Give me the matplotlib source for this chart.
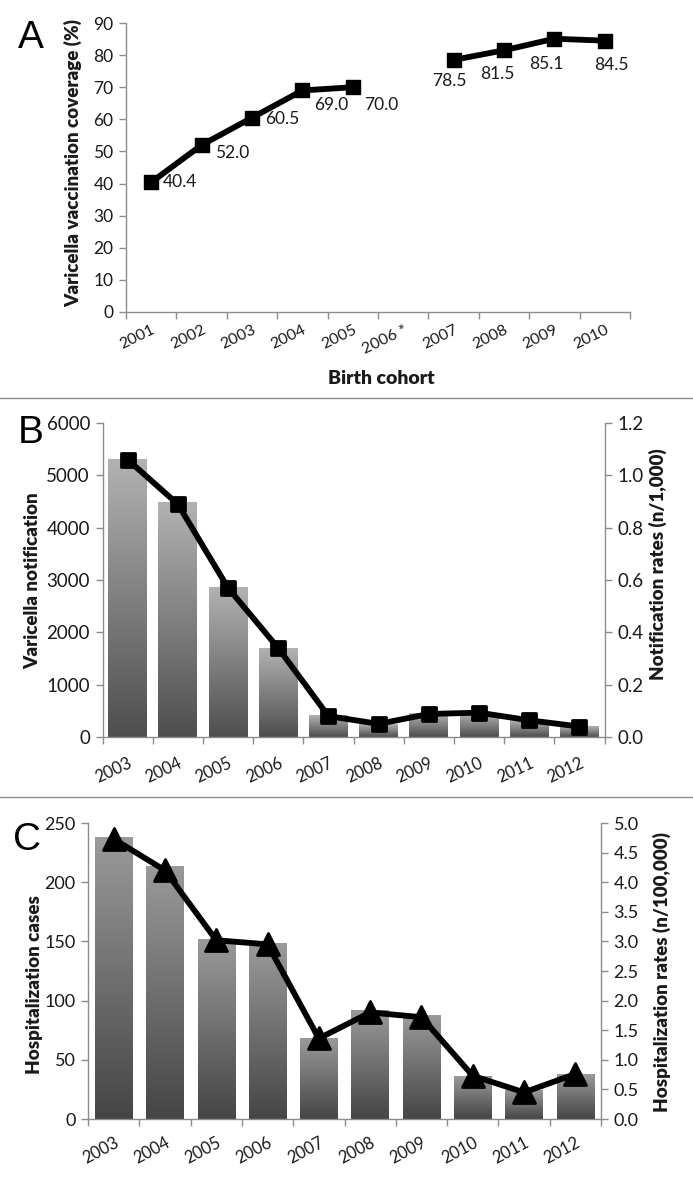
import numpy as np
import matplotlib
matplotlib.use("Agg")
import matplotlib.pyplot as plt
from matplotlib.markers import MarkerStyle
from matplotlib.lines import Line2D
from matplotlib.colors import LinearSegmentedColormap

plt.rcParams['font.family'] = ['Lato', 'DejaVu Sans']

# ---------------- data ----------------
cohort_labels = ["2001", "2002", "2003", "2004", "2005", "2006 *", "2007", "2008", "2009", "2010"]
coverage = [40.4, 52.0, 60.5, 69.0, 70.0, np.nan, 78.5, 81.5, 85.1, 84.5]

years = ["2003", "2004", "2005", "2006", "2007", "2008", "2009", "2010", "2011", "2012"]
notifications = [5300, 4480, 2850, 1700, 410, 240, 440, 450, 320, 205]
notification_rates = [1.06, 0.89, 0.57, 0.34, 0.08, 0.05, 0.088, 0.093, 0.064, 0.04]
hosp_cases = [238, 213, 152, 148, 68, 92, 87, 36, 24, 38]
hosp_rates = [4.73, 4.20, 3.02, 2.95, 1.36, 1.80, 1.72, 0.73, 0.45, 0.76]

# ---------------- style ----------------
W, H = 693, 1184
SPINE = '#8c8c8c'
LABEL_FS = 13.5
LABEL_W = 'heavy'
TEXT = '#1a1a1a'

fig = plt.figure(figsize=(W / 100, H / 100), dpi=100)


def px_axes(left, right, top, bottom):
    return fig.add_axes([left / W, 1 - bottom / H, (right - left) / W, (bottom - top) / H])


def style_axes(ax, yfs, right=False):
    ax.spines['top'].set_visible(False)
    for s in ['left', 'right', 'bottom']:
        ax.spines[s].set_color(SPINE)
        ax.spines[s].set_linewidth(1.0)
    ax.spines['right'].set_visible(right)
    ax.tick_params(axis='y', colors=SPINE, labelcolor=TEXT, labelsize=yfs, length=5, width=1,
                   direction='out', pad=4)


def setup_x(ax, labels, pad, fs, rot):
    n = len(labels)
    ax.set_xlim(-0.5, n - 0.5)
    ax.set_xticks(np.arange(n + 1) - 0.5)
    ax.set_xticklabels([])
    ax.set_xticks(np.arange(n), minor=True)
    ax.set_xticklabels(labels, minor=True, rotation=rot, ha='right', rotation_mode='anchor',
                       fontsize=fs, color=TEXT)
    ax.tick_params(axis='x', which='minor', length=0, pad=pad)
    ax.tick_params(axis='x', which='major', length=5, width=1, color=SPINE, direction='out')


def gradient_bars(ax, values, width, top_gray, bottom_gray):
    n = len(values)
    bars = ax.bar(np.arange(n), values, width=width, color='none', edgecolor='none', zorder=2)
    cmap = LinearSegmentedColormap.from_list('g', [bottom_gray, top_gray])
    grad = np.linspace(0, 1, 256).reshape(-1, 1)
    for rect in bars:
        x0, y0 = rect.get_x(), rect.get_y()
        w, h = rect.get_width(), rect.get_height()
        ax.imshow(grad, extent=[x0, x0 + w, y0, y0 + h], origin='lower', aspect='auto',
                  cmap=cmap, zorder=2, interpolation='bilinear')


def round_marker(m):
    return MarkerStyle(m, joinstyle='round')


# ---------------- Panel A ----------------
axA = px_axes(126, 630, 23, 312)
style_axes(axA, 12.5)
xA = np.arange(len(cohort_labels))
axA.plot(xA, coverage, color='black', lw=4.2, marker=round_marker('s'), ms=10.5,
         mfc='black', mec='black', mew=1, solid_joinstyle='round', solid_capstyle='round', zorder=3)
axA.set_ylim(0, 90)
axA.set_yticks(np.arange(0, 91, 10))
setup_x(axA, cohort_labels, pad=8, fs=11.5, rot=26)

# label offsets in pixels (dx, dy, ha)
offsA = [(12, 0, 'left'), (13, -8, 'left'), (13, -1, 'left'), (12, -15, 'left'), (11, -18, 'left'),
         None, (-4, -21, 'center'), (-7, -24, 'center'), (-8, -25, 'center'), (7, -24, 'center')]
for i, v in enumerate(coverage):
    if np.isnan(v):
        continue
    dx, dy, ha = offsA[i]
    axA.annotate(f"{v:.1f}", (xA[i], v), xytext=(dx * 0.72, dy * 0.72), textcoords='offset points',
                 ha=ha, va='center', fontsize=12.5, color=TEXT)

fig.text(73 / W, 1 - 163 / H, "Varicella vaccination coverage (%)", rotation=90, ha='center', va='center',
         fontsize=LABEL_FS, fontweight=LABEL_W, color=TEXT)
fig.text(381 / W, 1 - 378 / H, "Birth cohort", ha='center', va='center',
         fontsize=14, fontweight=LABEL_W, color=TEXT)

# ---------------- Panel B ----------------
axB = px_axes(102.5, 604.5, 423, 737)
style_axes(axB, 13.5)
gradient_bars(axB, notifications, 0.77, '#b2b2b2', '#4e4e4e')
axB.set_ylim(0, 6000)
axB.set_yticks(np.arange(0, 6001, 1000))
setup_x(axB, years, pad=13, fs=12, rot=25)
axB2 = axB.twinx()
style_axes(axB2, 13.5, right=True)
axB2.spines['left'].set_visible(False)
axB2.spines['bottom'].set_visible(False)
axB2.plot(np.arange(len(years)), notification_rates, color='black', lw=4.2,
          marker=round_marker('s'), ms=9.5, mfc='black', mec='black', mew=2,
          solid_joinstyle='round', zorder=3)
axB2.set_ylim(0, 1.2)
axB2.set_yticks(np.arange(0, 1.21, 0.2))
axB2.set_yticklabels([f"{t:.1f}" for t in np.arange(0, 1.21, 0.2)])
axB.set_xlim(-0.5, len(years) - 0.5)

fig.text(33 / W, 1 - 581 / H, "Varicella notification", rotation=90, ha='center', va='center',
         fontsize=LABEL_FS, fontweight=LABEL_W, color=TEXT)
fig.text(658 / W, 1 - 564 / H, "Notification rates (n/1,000)", rotation=90, ha='center', va='center',
         fontsize=LABEL_FS, fontweight=LABEL_W, color=TEXT)

# ---------------- Panel C ----------------
axC = px_axes(88, 601, 823, 1119)
style_axes(axC, 13)
gradient_bars(axC, hosp_cases, 0.73, '#9a9a9a', '#454545')
axC.set_ylim(0, 250)
axC.set_yticks(np.arange(0, 251, 50))
setup_x(axC, years, pad=11, fs=12, rot=28)
axC2 = axC.twinx()
style_axes(axC2, 13, right=True)
axC2.spines['left'].set_visible(False)
axC2.spines['bottom'].set_visible(False)
axC2.plot(np.arange(len(years)), hosp_rates, color='black', lw=4.2,
          marker=round_marker('^'), ms=16, mfc='black', mec='black', mew=2,
          solid_joinstyle='round', zorder=3)
axC2.set_ylim(0, 5.0)
axC2.set_yticks(np.arange(0, 5.01, 0.5))
axC2.set_yticklabels([f"{t:.1f}" for t in np.arange(0, 5.01, 0.5)])
axC.set_xlim(-0.5, len(years) - 0.5)

fig.text(35 / W, 1 - 985 / H, "Hospitalization cases", rotation=90, ha='center', va='center',
         fontsize=LABEL_FS, fontweight=LABEL_W, color=TEXT)
fig.text(662 / W, 1 - 972 / H, "Hospitalization rates (n/100,000)", rotation=90, ha='center', va='center',
         fontsize=LABEL_FS, fontweight=LABEL_W, color=TEXT)

# ---------------- panel letters & separators ----------------
for letter, x, y in [("A", 18, 20), ("B", 18, 415), ("C", 13, 822)]:
    fig.text(x / W, 1 - y / H, letter, ha='left', va='top', fontsize=28,
             family=['Liberation Sans', 'DejaVu Sans'], color='black')

for y in [398, 797]:
    fig.add_artist(Line2D([0, 1], [1 - y / H, 1 - y / H], transform=fig.transFigure,
                          color='#8a8a8a', lw=1.0))

fig.savefig("out.png", dpi=100)
